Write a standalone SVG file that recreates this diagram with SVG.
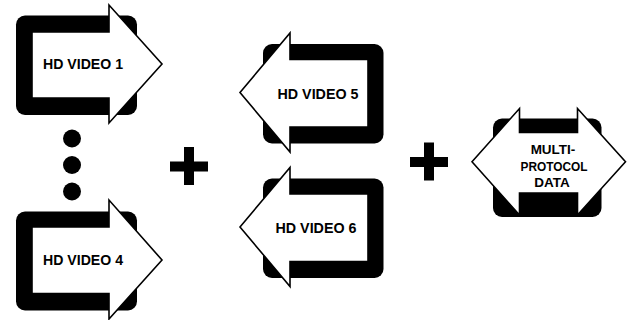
<svg xmlns="http://www.w3.org/2000/svg" width="632" height="320" viewBox="0 0 632 320">
<style>
.frame{fill:#000}
.arrow{fill:#fff;stroke:#000;stroke-width:1.6;stroke-linejoin:miter}
.lbl{font-family:"Liberation Sans",Arial,sans-serif;font-weight:bold;font-size:14px;fill:#000;text-anchor:middle}
.mlbl{font-family:"Liberation Sans",Arial,sans-serif;font-weight:bold;font-size:13.5px;fill:#000;text-anchor:middle}
.dot{fill:#000}
.plus{fill:#000}
</style>
<rect width="632" height="320" fill="#fff"/>
<g id="video1">
<rect class="frame" x="16" y="15.5" width="121" height="99.5" rx="9"/>
<polygon class="arrow" points="32,32 109,32 109,5 162,64 109,123 109,98 32,98"/>
<text class="lbl" x="83" y="68.5" textLength="80" lengthAdjust="spacingAndGlyphs">HD VIDEO 1</text>
</g>
<g id="video4">
<rect class="frame" x="16" y="211.5" width="121" height="99" rx="9"/>
<polygon class="arrow" points="32,227 109,227 109,200 162,260 109,319 109,293.5 32,293.5"/>
<text class="lbl" x="83" y="264.5" textLength="80" lengthAdjust="spacingAndGlyphs">HD VIDEO 4</text>
</g>
<g id="dots">
<circle class="dot" cx="72" cy="138.5" r="9"/>
<circle class="dot" cx="72" cy="165" r="9"/>
<circle class="dot" cx="72" cy="191.5" r="9"/>
</g>
<g id="plus1">
<rect class="plus" x="170" y="161.5" width="38" height="10"/>
<rect class="plus" x="184" y="147" width="10" height="38"/>
</g>
<g id="video5">
<rect class="frame" x="263" y="44" width="120.5" height="99.5" rx="9"/>
<polygon class="arrow" points="368,59.5 290,59.5 290,33 240,92.5 290,152 290,127 368,127"/>
<text class="lbl" x="318" y="98.5" textLength="81" lengthAdjust="spacingAndGlyphs">HD VIDEO 5</text>
</g>
<g id="video6">
<rect class="frame" x="263" y="178.5" width="120.5" height="99.5" rx="9"/>
<polygon class="arrow" points="368,194 290,194 290,167.5 240,227 290,286.5 290,261.5 368,261.5"/>
<text class="lbl" x="316" y="233" textLength="81" lengthAdjust="spacingAndGlyphs">HD VIDEO 6</text>
</g>
<g id="plus2">
<rect class="plus" x="410" y="157" width="38" height="10"/>
<rect class="plus" x="424" y="142.5" width="10" height="38"/>
</g>
<g id="data">
<rect class="frame" x="493" y="118.5" width="108.5" height="98.5" rx="9"/>
<polygon class="arrow" points="472,161.7 519.5,108.5 519.5,132.5 577.5,132.5 577.5,108.5 625.5,161.7 577.5,215 577.5,193 519.5,193 519.5,215"/>
<text class="mlbl" x="553" y="153.5">MULTI-</text>
<text class="mlbl" x="554" y="170.5" textLength="67" lengthAdjust="spacingAndGlyphs">PROTOCOL</text>
<text class="mlbl" x="552" y="186.5">DATA</text>
</g>
<g id="connectors"></g>
</svg>
